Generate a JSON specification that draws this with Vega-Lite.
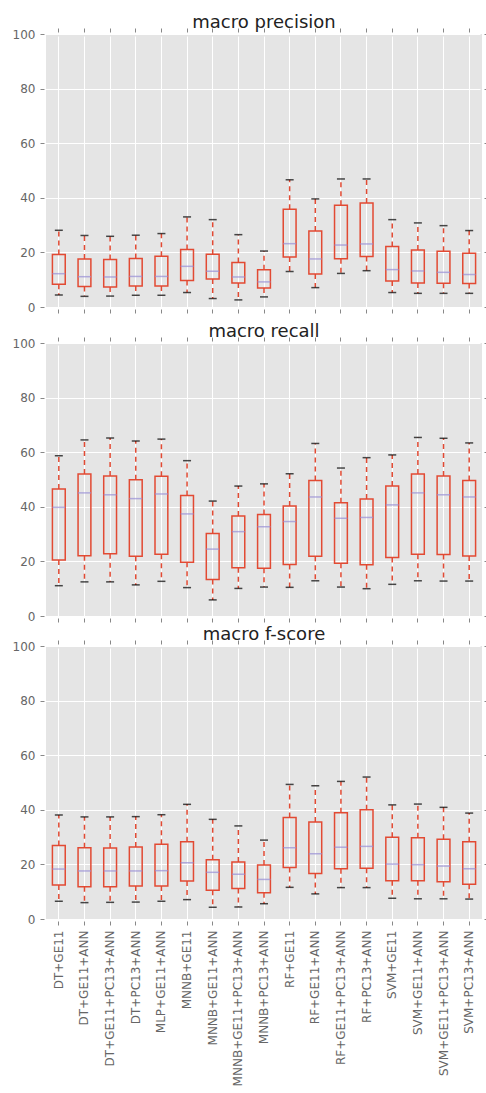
{
  "$schema": "https://vega.github.io/schema/vega-lite/v6.json",
  "padding": {"left": 12, "top": 13, "right": 0, "bottom": 0},
  "background": "white",
  "config": {
    "view": {"fill": "#E5E5E5", "stroke": null},
    "title": {"font": "DejaVu Sans", "fontSize": 18, "fontWeight": "normal", "color": "#222222", "anchor": "middle", "offset": -4},
    "axis": {"labelFont": "DejaVu Sans", "labelFontSize": 12, "labelColor": "#666666", "tickColor": "#888888", "tickSize": 4, "offset": 2, "labelPadding": 5, "domain": false, "gridColor": "white", "gridWidth": 1, "gridOpacity": 1, "title": null}
  },
  "data": {"values": [
    {"m":"p","model":"DT+GE11","lo":4.4,"q1":8.3,"med":12.2,"q3":19.2,"hi":28.1},
    {"m":"p","model":"DT+GE11+ANN","lo":3.9,"q1":7.5,"med":11.1,"q3":17.6,"hi":26.2},
    {"m":"p","model":"DT+GE11+PC13+ANN","lo":4.0,"q1":7.3,"med":11.0,"q3":17.4,"hi":25.9},
    {"m":"p","model":"DT+PC13+ANN","lo":4.3,"q1":7.7,"med":11.2,"q3":17.8,"hi":26.3},
    {"m":"p","model":"MLP+GE11+ANN","lo":4.3,"q1":7.7,"med":11.2,"q3":18.6,"hi":26.9},
    {"m":"p","model":"MNNB+GE11","lo":5.3,"q1":9.7,"med":14.9,"q3":21.1,"hi":33.0},
    {"m":"p","model":"MNNB+GE11+ANN","lo":3.1,"q1":10.3,"med":13.1,"q3":19.3,"hi":32.0},
    {"m":"p","model":"MNNB+GE11+PC13+ANN","lo":2.6,"q1":8.8,"med":11.0,"q3":16.3,"hi":26.5},
    {"m":"p","model":"MNNB+PC13+ANN","lo":3.7,"q1":7.0,"med":9.2,"q3":13.6,"hi":20.5},
    {"m":"p","model":"RF+GE11","lo":13.0,"q1":18.3,"med":23.2,"q3":35.8,"hi":46.6},
    {"m":"p","model":"RF+GE11+ANN","lo":7.1,"q1":12.1,"med":17.6,"q3":27.8,"hi":39.6},
    {"m":"p","model":"RF+GE11+PC13+ANN","lo":12.3,"q1":17.7,"med":22.7,"q3":37.3,"hi":46.9},
    {"m":"p","model":"RF+PC13+ANN","lo":13.3,"q1":18.5,"med":23.1,"q3":38.1,"hi":46.9},
    {"m":"p","model":"SVM+GE11","lo":5.3,"q1":9.5,"med":13.7,"q3":22.2,"hi":32.0},
    {"m":"p","model":"SVM+GE11+ANN","lo":5.0,"q1":8.8,"med":13.2,"q3":20.9,"hi":30.8},
    {"m":"p","model":"SVM+GE11+PC13+ANN","lo":5.0,"q1":8.7,"med":12.7,"q3":20.4,"hi":29.8},
    {"m":"p","model":"SVM+PC13+ANN","lo":5.0,"q1":8.6,"med":11.9,"q3":19.7,"hi":28.0},
    {"m":"r","model":"DT+GE11","lo":11.1,"q1":20.5,"med":39.8,"q3":46.5,"hi":58.7},
    {"m":"r","model":"DT+GE11+ANN","lo":12.5,"q1":22.1,"med":45.1,"q3":52.0,"hi":64.5},
    {"m":"r","model":"DT+GE11+PC13+ANN","lo":12.5,"q1":22.8,"med":44.4,"q3":51.3,"hi":65.2},
    {"m":"r","model":"DT+PC13+ANN","lo":11.4,"q1":21.9,"med":43.0,"q3":49.9,"hi":64.1},
    {"m":"r","model":"MLP+GE11+ANN","lo":12.7,"q1":22.6,"med":44.7,"q3":51.2,"hi":64.8},
    {"m":"r","model":"MNNB+GE11","lo":10.4,"q1":19.7,"med":37.4,"q3":44.1,"hi":56.9},
    {"m":"r","model":"MNNB+GE11+ANN","lo":5.9,"q1":13.4,"med":24.5,"q3":30.2,"hi":42.1},
    {"m":"r","model":"MNNB+GE11+PC13+ANN","lo":10.1,"q1":17.7,"med":30.9,"q3":36.6,"hi":47.6},
    {"m":"r","model":"MNNB+PC13+ANN","lo":10.6,"q1":17.5,"med":32.7,"q3":37.2,"hi":48.4},
    {"m":"r","model":"RF+GE11","lo":10.5,"q1":18.9,"med":34.6,"q3":40.3,"hi":52.1},
    {"m":"r","model":"RF+GE11+ANN","lo":12.9,"q1":21.9,"med":43.6,"q3":49.6,"hi":63.2},
    {"m":"r","model":"RF+GE11+PC13+ANN","lo":10.6,"q1":19.3,"med":35.8,"q3":41.5,"hi":54.2},
    {"m":"r","model":"RF+PC13+ANN","lo":10.0,"q1":18.8,"med":36.1,"q3":42.9,"hi":58.0},
    {"m":"r","model":"SVM+GE11","lo":11.6,"q1":21.4,"med":40.7,"q3":47.6,"hi":59.0},
    {"m":"r","model":"SVM+GE11+ANN","lo":12.9,"q1":22.6,"med":45.1,"q3":52.0,"hi":65.4},
    {"m":"r","model":"SVM+GE11+PC13+ANN","lo":12.8,"q1":22.5,"med":44.4,"q3":51.3,"hi":65.1},
    {"m":"r","model":"SVM+PC13+ANN","lo":12.8,"q1":22.0,"med":43.6,"q3":49.6,"hi":63.4},
    {"m":"f","model":"DT+GE11","lo":6.5,"q1":12.5,"med":18.3,"q3":26.9,"hi":38.1},
    {"m":"f","model":"DT+GE11+ANN","lo":6.0,"q1":11.8,"med":17.6,"q3":26.1,"hi":37.4},
    {"m":"f","model":"DT+GE11+PC13+ANN","lo":6.1,"q1":11.8,"med":17.6,"q3":26.0,"hi":37.4},
    {"m":"f","model":"DT+PC13+ANN","lo":6.2,"q1":12.1,"med":17.6,"q3":26.4,"hi":37.5},
    {"m":"f","model":"MLP+GE11+ANN","lo":6.5,"q1":12.1,"med":17.7,"q3":27.4,"hi":38.2},
    {"m":"f","model":"MNNB+GE11","lo":7.1,"q1":13.9,"med":20.6,"q3":28.3,"hi":42.0},
    {"m":"f","model":"MNNB+GE11+ANN","lo":4.3,"q1":10.5,"med":17.1,"q3":21.7,"hi":36.5},
    {"m":"f","model":"MNNB+GE11+PC13+ANN","lo":4.4,"q1":11.2,"med":16.4,"q3":20.9,"hi":34.1},
    {"m":"f","model":"MNNB+PC13+ANN","lo":5.6,"q1":9.6,"med":14.5,"q3":19.8,"hi":28.9},
    {"m":"f","model":"RF+GE11","lo":11.6,"q1":18.9,"med":26.1,"q3":37.2,"hi":49.3},
    {"m":"f","model":"RF+GE11+ANN","lo":9.2,"q1":16.7,"med":23.9,"q3":35.5,"hi":48.8},
    {"m":"f","model":"RF+GE11+PC13+ANN","lo":11.5,"q1":18.4,"med":26.3,"q3":38.9,"hi":50.4},
    {"m":"f","model":"RF+PC13+ANN","lo":11.5,"q1":18.6,"med":26.6,"q3":40.0,"hi":52.0},
    {"m":"f","model":"SVM+GE11","lo":7.6,"q1":14.0,"med":20.1,"q3":29.9,"hi":41.8},
    {"m":"f","model":"SVM+GE11+ANN","lo":7.4,"q1":14.0,"med":19.9,"q3":29.8,"hi":42.1},
    {"m":"f","model":"SVM+GE11+PC13+ANN","lo":7.4,"q1":13.6,"med":19.4,"q3":29.2,"hi":40.9},
    {"m":"f","model":"SVM+PC13+ANN","lo":7.3,"q1":12.7,"med":18.4,"q3":28.3,"hi":38.8}
  ]},
  "spacing": 8,
  "vconcat": [
    {
      "title": "macro precision",
      "width": 436, "height": 273,
      "transform": [{"filter": "datum.m === 'p'"}],
      "layer": [
        {"mark": {"type": "rule", "color": "#E24A33", "strokeWidth": 1.5, "strokeDash": [5, 4]},
         "encoding": {"x": {"field": "model", "type": "nominal", "sort": null, "scale": {"type": "band", "paddingInner": 0, "paddingOuter": 0}, "axis": null},
                      "y": {"field": "q3", "type": "quantitative", "scale": {"domain": [0, 100], "nice": false}, "axis": null}, "y2": {"field": "hi"}}},
        {"mark": {"type": "rule", "color": "#E24A33", "strokeWidth": 1.5, "strokeDash": [5, 4]},
         "encoding": {"x": {"field": "model", "type": "nominal", "sort": null, "scale": {"type": "band", "paddingInner": 0, "paddingOuter": 0}, "axis": null},
                      "y": {"field": "q1", "type": "quantitative", "scale": {"domain": [0, 100], "nice": false}, "axis": null}, "y2": {"field": "lo"}}},
        {"mark": {"type": "bar", "width": {"band": 0.5}, "fillOpacity": 0, "stroke": "#E24A33", "strokeWidth": 1.5},
         "encoding": {"x": {"field": "model", "type": "nominal", "sort": null, "scale": {"type": "band", "paddingInner": 0, "paddingOuter": 0}, "axis": {"orient": "bottom", "labels": false, "grid": true}},
                      "y": {"field": "q1", "type": "quantitative", "scale": {"domain": [0, 100], "nice": false}, "axis": {"orient": "left", "values": [0, 20, 40, 60, 80, 100], "grid": true}}, "y2": {"field": "q3"}}},
        {"mark": {"type": "tick", "color": "black", "size": 8, "thickness": 1.5},
         "encoding": {"x": {"field": "model", "type": "nominal", "sort": null, "scale": {"type": "band", "paddingInner": 0, "paddingOuter": 0}, "axis": null},
                      "y": {"field": "hi", "type": "quantitative", "scale": {"domain": [0, 100], "nice": false}, "axis": null}}},
        {"mark": {"type": "tick", "color": "black", "size": 8, "thickness": 1.5},
         "encoding": {"x": {"field": "model", "type": "nominal", "sort": null, "scale": {"type": "band", "paddingInner": 0, "paddingOuter": 0}, "axis": null},
                      "y": {"field": "lo", "type": "quantitative", "scale": {"domain": [0, 100], "nice": false}, "axis": null}}},
        {"mark": {"type": "tick", "color": "#988ED5", "size": 13, "thickness": 1.5},
         "encoding": {"x": {"field": "model", "type": "nominal", "sort": null, "scale": {"type": "band", "paddingInner": 0, "paddingOuter": 0}, "axis": {"orient": "top", "labels": false, "grid": false}},
                      "y": {"field": "med", "type": "quantitative", "scale": {"domain": [0, 100], "nice": false}, "axis": {"orient": "right", "values": [0, 20, 40, 60, 80, 100], "labels": false, "grid": false}}}}
      ]
    },
    {
      "spacing": 2,
      "vconcat": [
        {
          "title": "macro recall",
          "width": 436, "height": 273,
          "transform": [{"filter": "datum.m === 'r'"}],
          "layer": [
            {"mark": {"type": "rule", "color": "#E24A33", "strokeWidth": 1.5, "strokeDash": [5, 4]},
             "encoding": {"x": {"field": "model", "type": "nominal", "sort": null, "scale": {"type": "band", "paddingInner": 0, "paddingOuter": 0}, "axis": null},
                          "y": {"field": "q3", "type": "quantitative", "scale": {"domain": [0, 100], "nice": false}, "axis": null}, "y2": {"field": "hi"}}},
            {"mark": {"type": "rule", "color": "#E24A33", "strokeWidth": 1.5, "strokeDash": [5, 4]},
             "encoding": {"x": {"field": "model", "type": "nominal", "sort": null, "scale": {"type": "band", "paddingInner": 0, "paddingOuter": 0}, "axis": null},
                          "y": {"field": "q1", "type": "quantitative", "scale": {"domain": [0, 100], "nice": false}, "axis": null}, "y2": {"field": "lo"}}},
            {"mark": {"type": "bar", "width": {"band": 0.5}, "fillOpacity": 0, "stroke": "#E24A33", "strokeWidth": 1.5},
             "encoding": {"x": {"field": "model", "type": "nominal", "sort": null, "scale": {"type": "band", "paddingInner": 0, "paddingOuter": 0}, "axis": {"orient": "bottom", "labels": false, "grid": true}},
                          "y": {"field": "q1", "type": "quantitative", "scale": {"domain": [0, 100], "nice": false}, "axis": {"orient": "left", "values": [0, 20, 40, 60, 80, 100], "grid": true}}, "y2": {"field": "q3"}}},
            {"mark": {"type": "tick", "color": "black", "size": 8, "thickness": 1.5},
             "encoding": {"x": {"field": "model", "type": "nominal", "sort": null, "scale": {"type": "band", "paddingInner": 0, "paddingOuter": 0}, "axis": null},
                          "y": {"field": "hi", "type": "quantitative", "scale": {"domain": [0, 100], "nice": false}, "axis": null}}},
            {"mark": {"type": "tick", "color": "black", "size": 8, "thickness": 1.5},
             "encoding": {"x": {"field": "model", "type": "nominal", "sort": null, "scale": {"type": "band", "paddingInner": 0, "paddingOuter": 0}, "axis": null},
                          "y": {"field": "lo", "type": "quantitative", "scale": {"domain": [0, 100], "nice": false}, "axis": null}}},
            {"mark": {"type": "tick", "color": "#988ED5", "size": 13, "thickness": 1.5},
             "encoding": {"x": {"field": "model", "type": "nominal", "sort": null, "scale": {"type": "band", "paddingInner": 0, "paddingOuter": 0}, "axis": {"orient": "top", "labels": false, "grid": false}},
                          "y": {"field": "med", "type": "quantitative", "scale": {"domain": [0, 100], "nice": false}, "axis": {"orient": "right", "values": [0, 20, 40, 60, 80, 100], "labels": false, "grid": false}}}}
          ]
        },
        {
          "title": "macro f-score",
          "width": 436, "height": 273,
          "transform": [{"filter": "datum.m === 'f'"}],
          "layer": [
            {"mark": {"type": "rule", "color": "#E24A33", "strokeWidth": 1.5, "strokeDash": [5, 4]},
             "encoding": {"x": {"field": "model", "type": "nominal", "sort": null, "scale": {"type": "band", "paddingInner": 0, "paddingOuter": 0}, "axis": null},
                          "y": {"field": "q3", "type": "quantitative", "scale": {"domain": [0, 100], "nice": false}, "axis": null}, "y2": {"field": "hi"}}},
            {"mark": {"type": "rule", "color": "#E24A33", "strokeWidth": 1.5, "strokeDash": [5, 4]},
             "encoding": {"x": {"field": "model", "type": "nominal", "sort": null, "scale": {"type": "band", "paddingInner": 0, "paddingOuter": 0}, "axis": null},
                          "y": {"field": "q1", "type": "quantitative", "scale": {"domain": [0, 100], "nice": false}, "axis": null}, "y2": {"field": "lo"}}},
            {"mark": {"type": "bar", "width": {"band": 0.5}, "fillOpacity": 0, "stroke": "#E24A33", "strokeWidth": 1.5},
             "encoding": {"x": {"field": "model", "type": "nominal", "sort": null, "scale": {"type": "band", "paddingInner": 0, "paddingOuter": 0}, "axis": {"orient": "bottom", "labelAngle": -90, "grid": true}},
                          "y": {"field": "q1", "type": "quantitative", "scale": {"domain": [0, 100], "nice": false}, "axis": {"orient": "left", "values": [0, 20, 40, 60, 80, 100], "grid": true}}, "y2": {"field": "q3"}}},
            {"mark": {"type": "tick", "color": "black", "size": 8, "thickness": 1.5},
             "encoding": {"x": {"field": "model", "type": "nominal", "sort": null, "scale": {"type": "band", "paddingInner": 0, "paddingOuter": 0}, "axis": null},
                          "y": {"field": "hi", "type": "quantitative", "scale": {"domain": [0, 100], "nice": false}, "axis": null}}},
            {"mark": {"type": "tick", "color": "black", "size": 8, "thickness": 1.5},
             "encoding": {"x": {"field": "model", "type": "nominal", "sort": null, "scale": {"type": "band", "paddingInner": 0, "paddingOuter": 0}, "axis": null},
                          "y": {"field": "lo", "type": "quantitative", "scale": {"domain": [0, 100], "nice": false}, "axis": null}}},
            {"mark": {"type": "tick", "color": "#988ED5", "size": 13, "thickness": 1.5},
             "encoding": {"x": {"field": "model", "type": "nominal", "sort": null, "scale": {"type": "band", "paddingInner": 0, "paddingOuter": 0}, "axis": {"orient": "top", "labels": false, "grid": false}},
                          "y": {"field": "med", "type": "quantitative", "scale": {"domain": [0, 100], "nice": false}, "axis": {"orient": "right", "values": [0, 20, 40, 60, 80, 100], "labels": false, "grid": false}}}}
          ]
        }
      ]
    }
  ]
}
